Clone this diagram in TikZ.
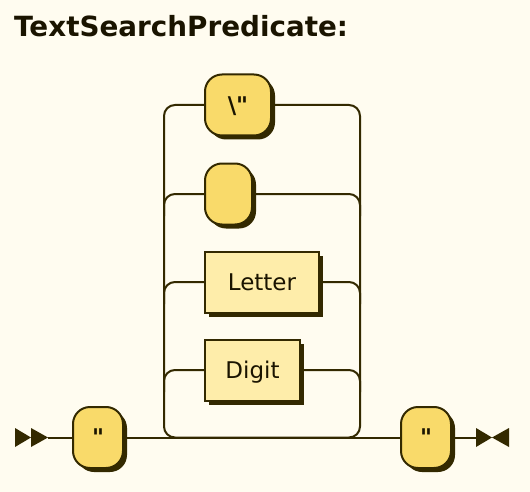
\documentclass[tikz,border=0pt]{standalone}
\usepackage{fontspec}
\setmainfont{DejaVu Sans}
\usetikzlibrary{shadows}
\definecolor{bgc}{HTML}{FFFCF0}
\definecolor{ink}{HTML}{332900}
\definecolor{txt}{HTML}{1A1400}
\definecolor{termc}{HTML}{F9DA6A}
\definecolor{ntc}{HTML}{FEEDAA}
\pgfdeclarelayer{back}
\pgfdeclarelayer{lines}
\pgfsetlayers{back,lines,main}
\begin{document}
\begin{tikzpicture}[x=1pt,y=-1pt,
  conn/.style={draw=ink, line width=2pt},
  loopline/.style={conn, rounded corners=11pt},
  boxbase/.style={draw=ink, line width=2pt, inner sep=0pt, minimum height=61pt,
    text=txt, text height=16.8pt, text depth=0pt,
    drop shadow={shadow xshift=4pt, shadow yshift=-4pt, fill=ink, opacity=1}},
  term/.style={boxbase, fill=termc, rounded corners=17pt, font=\bfseries\fontsize{23}{26}\selectfont},
  nonterm/.style={boxbase, fill=ntc, font=\fontsize{23}{26}\selectfont},
  tip/.style={fill=ink},
  titlestyle/.style={anchor=base west, inner sep=0pt, text=txt, font=\bfseries\fontsize{27.8}{30}\selectfont}
]
\useasboundingbox (0,0) rectangle (530,492);
\begin{pgfonlayer}{back}
\fill[bgc] (0,0) rectangle (530,492);
\end{pgfonlayer}

\node[titlestyle] (title) at (14,37) {TextSearchPredicate:};

\node[term, minimum width=50pt] (s) at (98,437.5) {\textquotedbl};
\node[term, minimum width=50pt] (e) at (426,437.5) {\textquotedbl};
\node[term, minimum width=66pt] (q) at (238,105) {\textbackslash\textquotedbl};
\node[term, minimum width=47pt] (sp) at (228.5,194) {};
\node[nonterm, minimum width=114pt] (let) at (262,282) {Letter};
\node[nonterm, minimum width=95pt] (dig) at (252.5,370) {Digit};

\coordinate (st) at (48,437.5);
\coordinate (en) at (476,437.5);
\coordinate (L) at (164,437.5);
\coordinate (R) at (360,437.5);
\coordinate (l2) at (164,216);
\coordinate (l3) at (164,304);
\coordinate (l4) at (164,392);
\coordinate (r2) at (360,216);
\coordinate (r3) at (360,304);
\coordinate (r4) at (360,392);

\begin{pgfonlayer}{lines}
\draw[conn] (st) -- (s.west);
\draw[conn] (s.east) -- (e.west);
\draw[conn] (e.east) -- (en);
\draw[loopline] (q.west) -| (L) -- (R) |- (q.east);
\draw[loopline] (l2) |- (sp.west);
\draw[loopline] (sp.east) -| (r2);
\draw[loopline] (l3) |- (let.west);
\draw[loopline] (let.east) -| (r3);
\draw[loopline] (l4) |- (dig.west);
\draw[loopline] (dig.east) -| (r4);
\end{pgfonlayer}

\fill[tip] (15,428) -- (31,437.5) -- (15,447) -- cycle;
\fill[tip] (31,428) -- (48,437.5) -- (31,447) -- cycle;
\fill[tip] (476,428) -- (492,437.5) -- (476,447) -- cycle;
\fill[tip] (509,428) -- (492,437.5) -- (509,447) -- cycle;
\end{tikzpicture}
\end{document}
